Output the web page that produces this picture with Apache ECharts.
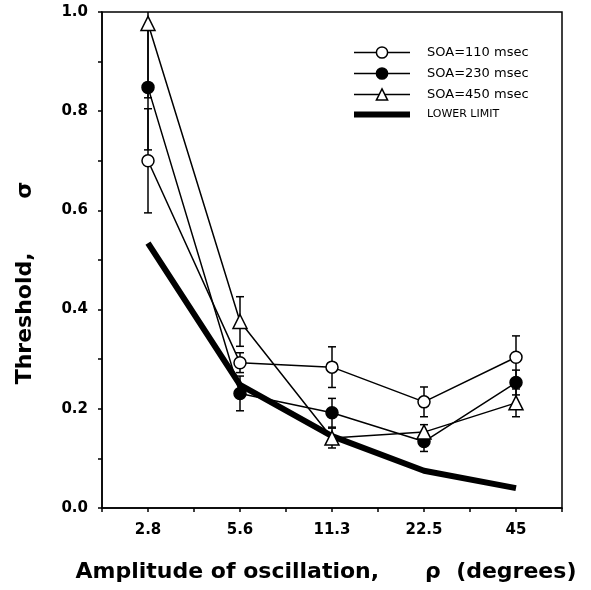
<!DOCTYPE html>
<html lang="en">
<head>
    <meta charset="UTF-8">
    <title>threshold</title>
    <style>
        html, body {margin: 0; padding: 0; background: #fff;}
        #main {width: 591px; height: 590px;}
    </style>
</head>
<body>
<div id="main"></div>
<script src="https://cdn.jsdelivr.net/npm/echarts@6/dist/echarts.min.js"></script>
<script type="text/javascript">
// amplitude of oscillation (degrees), one category per x position
var categories = ['2.8', '5.6', '11.3', '22.5', '45'];
var yTicks = ['0.0', '0.2', '0.4', '0.6', '0.8', '1.0'];

var soa110 = [0.700, 0.293, 0.284, 0.214, 0.304];
var err110 = [0.105, 0.020, 0.041, 0.030, 0.043];
var soa230 = [0.848, 0.231, 0.192, 0.134, 0.253];
var err230 = [0.126, 0.035, 0.029, 0.020, 0.025];
var soa450 = [0.977, 0.376, 0.141, 0.153, 0.212];
var err450 = [0.150, 0.050, 0.020, 0.015, 0.028];
var lowerLimit = [0.534, 0.248, 0.145, 0.075, 0.040];

var font = 'DejaVu Sans';

function pts(arr) {
    return arr.map(function (v, i) { return [i + 1, v]; });
}
function errPts(vals, errs) {
    return vals.map(function (v, i) { return [i + 1, v - errs[i], v + errs[i]]; });
}

// vertical error bar with caps, clipped to the plot
function renderErr(params, api) {
    var x = api.value(0);
    var lo = Math.max(api.value(1), 0);
    var hi = Math.min(api.value(2), 1);
    var pLo = api.coord([x, lo]);
    var pHi = api.coord([x, hi]);
    var cap = 4;
    var st = {stroke: '#000', lineWidth: 1.5};
    var kids = [{type: 'line', shape: {x1: pLo[0], y1: pLo[1], x2: pHi[0], y2: pHi[1]}, style: st}];
    if (api.value(1) >= 0) kids.push({type: 'line', shape: {x1: pLo[0] - cap, y1: pLo[1], x2: pLo[0] + cap, y2: pLo[1]}, style: st});
    if (api.value(2) <= 1) kids.push({type: 'line', shape: {x1: pHi[0] - cap, y1: pHi[1], x2: pHi[0] + cap, y2: pHi[1]}, style: st});
    return {type: 'group', children: kids};
}

function lineSeries(name, data, symbol, fill) {
    return {
        name: name,
        type: 'line',
        data: pts(data),
        symbol: symbol,
        symbolSize: symbol === 'triangle' ? 14 : 12,
        z: 5,
        lineStyle: {color: '#000', width: 1.5},
        itemStyle: {color: fill, borderColor: '#000', borderWidth: 1.5},
        emphasis: {disabled: true}
    };
}

function errSeries(vals, errs) {
    return {
        type: 'custom',
        data: errPts(vals, errs),
        renderItem: renderErr,
        z: 3,
        silent: true
    };
}

var chart = echarts.init(document.getElementById('main'));
chart.setOption({
    animation: false,
    grid: {
        left: 102, top: 12, width: 460, height: 496,
        show: true, borderColor: '#000', borderWidth: 1.5, backgroundColor: 'transparent'
    },
    legend: {
        orient: 'vertical',
        left: 346, top: 41,
        itemWidth: 56, itemHeight: 14, itemGap: 8,
        selectedMode: false,
        lineStyle: {width: 1.5},
        itemStyle: {borderWidth: 1.5},
        textStyle: {fontFamily: font, fontSize: 13, color: '#000', padding: [0, 0, 0, 12]},
        data: [
            'SOA=110 msec', 'SOA=230 msec', 'SOA=450 msec',
            {name: 'LOWER LIMIT', lineStyle: {width: 6}, itemStyle: {opacity: 0}, textStyle: {fontSize: 11}}
        ]
    },
    xAxis: {
        type: 'value',
        min: 0.5, max: 5.5, interval: 0.5,
        name: 'Amplitude of oscillation,      \u03c1  (degrees)',
        nameLocation: 'middle',
        nameGap: 53,
        nameTextStyle: {fontFamily: font, fontSize: 22, fontWeight: 'bold', color: '#000', padding: [0, 12, 0, 0]},
        axisLine: {lineStyle: {color: '#000', width: 1.5}},
        axisTick: {inside: false, length: 4, lineStyle: {color: '#000', width: 1.5}},
        splitLine: {show: false},
        axisLabel: {
            margin: 15,
            fontFamily: font, fontSize: 15, fontWeight: 'bold', color: '#000',
            formatter: function (v) {
                return Number.isInteger(v) ? categories[v - 1] : '';
            }
        }
    },
    yAxis: {
        type: 'value',
        min: 0, max: 1, interval: 0.1,
        axisLine: {lineStyle: {color: '#000', width: 1.5}},
        axisTick: {inside: false, length: 4, lineStyle: {color: '#000', width: 1.5}},
        splitLine: {show: false},
        axisLabel: {
            margin: 14,
            fontFamily: font, fontSize: 15, fontWeight: 'bold', color: '#000',
            formatter: function (v) {
                var k = Math.round(v * 10);
                return k % 2 === 0 ? yTicks[k / 2] : '';
            }
        }
    },
    graphic: [{
        type: 'text',
        x: 25, y: 283,
        rotation: Math.PI / 2,
        style: {
            text: 'Threshold,       \u03c3',
            font: 'bold 22px "DejaVu Sans"',
            fill: '#000',
            align: 'center',
            verticalAlign: 'middle'
        }
    }],
    series: [
        {
            name: 'LOWER LIMIT',
            type: 'line',
            data: pts(lowerLimit),
            symbol: 'none',
            z: 2,
            lineStyle: {color: '#000', width: 6},
            itemStyle: {color: '#000'},
            emphasis: {disabled: true}
        },
        errSeries(soa110, err110),
        errSeries(soa230, err230),
        errSeries(soa450, err450),
        lineSeries('SOA=110 msec', soa110, 'circle', '#fff'),
        lineSeries('SOA=230 msec', soa230, 'circle', '#000'),
        lineSeries('SOA=450 msec', soa450, 'triangle', '#fff')
    ]
});
</script>
</body>
</html>
